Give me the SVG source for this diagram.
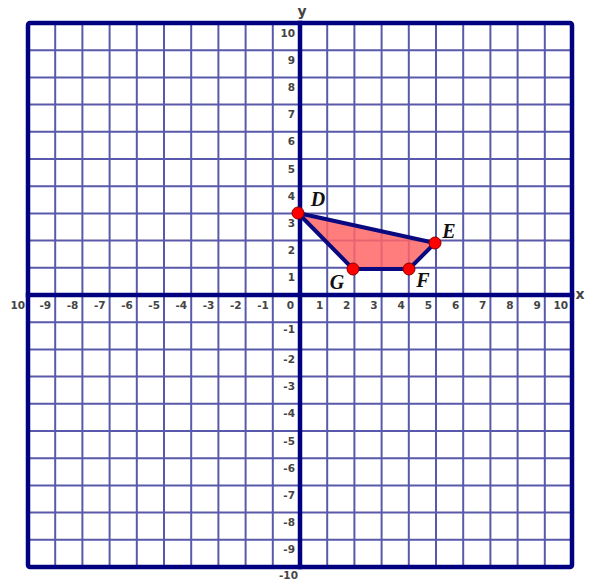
<svg xmlns="http://www.w3.org/2000/svg" width="592" height="585" viewBox="0 0 592 585">
<style>
.grid{fill:none;stroke:#000080;stroke-opacity:0.65;stroke-width:2}
.axis{fill:none;stroke:#000080;stroke-width:4.5;stroke-linecap:square}
.border{fill:none;stroke:#000080;stroke-width:4.5;stroke-linejoin:round}
.tx{font-family:"DejaVu Sans",sans-serif;font-size:10.5px;fill:#444;font-weight:bold;text-anchor:end}
.ax{font-family:"DejaVu Sans",sans-serif;font-size:14px;fill:#444;font-weight:bold;text-anchor:middle}
.pl{font-family:"Liberation Serif",serif;font-size:20px;font-weight:bold;font-style:italic;fill:#111;text-anchor:middle}
.pt{fill:#f00;stroke:#8b0000;stroke-width:1}
</style>
<rect width="592" height="585" fill="#fff"/>
<g id="grid">
<path class="grid" d="M55.2 23V567M82.4 23V567M109.6 23V567M136.8 23V567M164 23V567M191.2 23V567M218.4 23V567M245.6 23V567M272.8 23V567M327.2 23V567M354.4 23V567M381.6 23V567M408.8 23V567M436 23V567M463.2 23V567M490.4 23V567M517.6 23V567M544.8 23V567
M28 50.2H572M28 77.4H572M28 104.6H572M28 131.8H572M28 159H572M28 186.2H572M28 213.4H572M28 240.6H572M28 267.8H572M28 322.2H572M28 349.4H572M28 376.6H572M28 403.8H572M28 431H572M28 458.2H572M28 485.4H572M28 512.6H572M28 539.8H572"/>
<rect class="border" x="28" y="23" width="544" height="544" rx="2"/>
<path class="axis" d="M300 23V567M28 295H572"/>
</g>
<g id="x-labels" class="tx">
<text x="25" y="308.5">10</text>
<text x="51.2" y="308.5">-9</text>
<text x="78.4" y="308.5">-8</text>
<text x="105.6" y="308.5">-7</text>
<text x="132.8" y="308.5">-6</text>
<text x="160" y="308.5">-5</text>
<text x="187.2" y="308.5">-4</text>
<text x="214.4" y="308.5">-3</text>
<text x="241.6" y="308.5">-2</text>
<text x="268.8" y="308.5">-1</text>
<text x="294" y="308.5">0</text>
<text x="323.2" y="308.5">1</text>
<text x="350.4" y="308.5">2</text>
<text x="377.6" y="308.5">3</text>
<text x="404.8" y="308.5">4</text>
<text x="432" y="308.5">5</text>
<text x="459.2" y="308.5">6</text>
<text x="486.4" y="308.5">7</text>
<text x="513.6" y="308.5">8</text>
<text x="540.8" y="308.5">9</text>
<text x="568" y="308.5">10</text>
</g>
<g id="y-labels" class="tx">
<text x="295" y="36.5">10</text>
<text x="295" y="63.7">9</text>
<text x="295" y="90.9">8</text>
<text x="295" y="118.1">7</text>
<text x="295" y="145.3">6</text>
<text x="295" y="172.5">5</text>
<text x="295" y="199.7">4</text>
<text x="295" y="226.9">3</text>
<text x="295" y="254.1">2</text>
<text x="295" y="281.3">1</text>
<text x="295" y="333.2">-1</text>
<text x="295" y="362.9">-2</text>
<text x="295" y="390.1">-3</text>
<text x="295" y="417.3">-4</text>
<text x="295" y="444.5">-5</text>
<text x="295" y="471.7">-6</text>
<text x="295" y="498.9">-7</text>
<text x="295" y="526.1">-8</text>
<text x="295" y="553.3">-9</text>
<text x="298" y="579">-10</text>
</g>
<text class="ax" x="580" y="299">x</text>
<text class="ax" x="302" y="16">y</text>
<g id="shape">
<polygon points="298,213 435,243 409,269 353,269" fill="#ff6666" fill-opacity="0.85" stroke="#0a0a80" stroke-width="4" stroke-linejoin="round"/>
</g>
<g id="D"><circle class="pt" cx="298" cy="213" r="6"/><text class="pl" x="318" y="206">D</text></g>
<g id="E"><circle class="pt" cx="435" cy="243" r="6"/><text class="pl" x="449" y="238">E</text></g>
<g id="F"><circle class="pt" cx="409" cy="269" r="6"/><text class="pl" x="423" y="287">F</text></g>
<g id="G"><circle class="pt" cx="353" cy="269" r="6"/><text class="pl" x="337" y="289">G</text></g>
</svg>
